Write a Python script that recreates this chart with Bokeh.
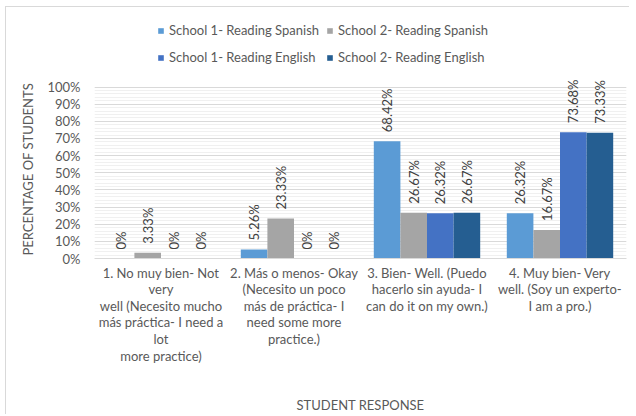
from math import pi
from bokeh.plotting import figure
from bokeh.models import (ColumnDataSource, FactorRange, Range1d, Legend, LegendItem,
                          Title, LabelSet, FixedTicker, PrintfTickFormatter)
from bokeh.transform import dodge
from bokeh.core.properties import value
from bokeh.embed import file_html
from bokeh.resources import INLINE

categories = [
    "1. No muy bien- Not\nvery\nwell (Necesito mucho\nmás práctica- I need a\nlot\nmore practice)",
    "2. Más o menos- Okay\n(Necesito un poco\nmás de práctica- I\nneed some more\npractice.)",
    "3. Bien- Well. (Puedo\nhacerlo sin ayuda- I\ncan do it on my own.)",
    "4. Muy bien- Very\nwell. (Soy un experto-\nI am a pro.)",
]
series_names = ["School 1- Reading Spanish", "School 2- Reading Spanish",
                "School 1- Reading English", "School 2- Reading English"]
school1_spanish = [0, 5.26, 68.42, 26.32]
school2_spanish = [3.33, 23.33, 26.67, 16.67]
school1_english = [0, 0, 26.32, 73.68]
school2_english = [0, 0, 26.67, 73.33]
y_ticks = list(range(0, 101, 10))
y_minor_ticks = list(range(0, 101, 2))

series_values = [school1_spanish, school2_spanish, school1_english, school2_english]
colors = ["#5B9BD5", "#A5A5A5", "#4472C4", "#255E91"]
offsets = [-0.3, -0.1, 0.1, 0.3]
FONT = "Lato"
GRAY = "#595959"

def fmt(v):
    return "0%" if v == 0 else "%.2f%%" % v

data = {"cat": categories}
for i, vals in enumerate(series_values):
    data["v%d" % i] = vals
    data["l%d" % i] = [fmt(v) for v in vals]
src = ColumnDataSource(data)

# frame extends above 100% (invisibly) so that legend and labels are not clipped
p = figure(width=624, height=408, x_range=FactorRange(*categories, range_padding=0),
           y_range=Range1d(0, 141.7), output_backend="svg", toolbar_location=None,
           min_border_left=88, min_border_right=4, min_border_top=8, min_border_bottom=157)
p.outline_line_color = None
p.background_fill_color = "white"
p.border_fill_color = "white"
p.styles = {"margin": "6px 0px 0px 5px",
            "border-top": "1px solid #D9D9D9", "border-left": "1px solid #D9D9D9"}

items = []
for i in range(4):
    r = p.vbar(x=dodge("cat", offsets[i], range=p.x_range), top="v%d" % i, width=0.2,
               source=src, fill_color=colors[i], line_color=None)
    items.append(LegendItem(label=series_names[i], renderers=[r]))
    ls = LabelSet(x=dodge("cat", offsets[i], range=p.x_range), y="v%d" % i, text="l%d" % i,
                  source=src, angle=pi / 2, text_align="left", text_baseline="middle",
                  y_offset=9, text_font=value(FONT), text_font_size="13px", text_color="#404040")
    p.add_layout(ls)

# axes
p.yaxis.ticker = FixedTicker(ticks=y_ticks, minor_ticks=y_minor_ticks)
p.yaxis.formatter = PrintfTickFormatter(format="%d%%")
p.yaxis.axis_line_color = None
p.yaxis.major_tick_line_color = None
p.yaxis.minor_tick_line_color = None
p.yaxis.major_tick_out = 0
p.yaxis.minor_tick_out = 0
p.yaxis.major_label_standoff = 14
p.yaxis.major_label_text_font = FONT
p.yaxis.major_label_text_font_size = "13px"
p.yaxis.major_label_text_color = GRAY

p.xaxis.axis_line_color = "#D9D9D9"
p.xaxis.major_tick_line_color = None
p.xaxis.minor_tick_line_color = None
p.xaxis.major_tick_out = 0
p.xaxis.major_label_standoff = 6
p.xaxis.major_label_text_font = FONT
p.xaxis.major_label_text_font_size = "13px"
p.xaxis.major_label_text_color = GRAY
p.xaxis.major_label_text_line_height = 1.04
p.xaxis.axis_label = "STUDENT RESPONSE"
p.xaxis.axis_label_text_font = FONT
p.xaxis.axis_label_text_font_size = "13px"
p.xaxis.axis_label_text_font_style = "normal"
p.xaxis.axis_label_text_color = GRAY
p.xaxis.axis_label_standoff = 30

p.xgrid.grid_line_color = None
p.ygrid.grid_line_color = "#D9D9D9"
p.ygrid.minor_grid_line_color = "#F0F0F0"

p.add_layout(Title(text="PERCENTAGE OF STUDENTS", align="left", offset=3,
                   vertical_align="middle", standoff=16, text_font=FONT,
                   text_font_size="13px", text_font_style="normal", text_color=GRAY), "left")

legend = Legend(items=items, location=(63, 191), orientation="horizontal", ncols=2,
                glyph_width=7, glyph_height=7, label_standoff=5, spacing=7, label_height=20,
                padding=0, margin=0, border_line_color=None, background_fill_alpha=0,
                label_text_font=FONT, label_text_font_size="13px", label_text_color=GRAY)
p.add_layout(legend)

open("out.html", "w").write(file_html(p, INLINE))
